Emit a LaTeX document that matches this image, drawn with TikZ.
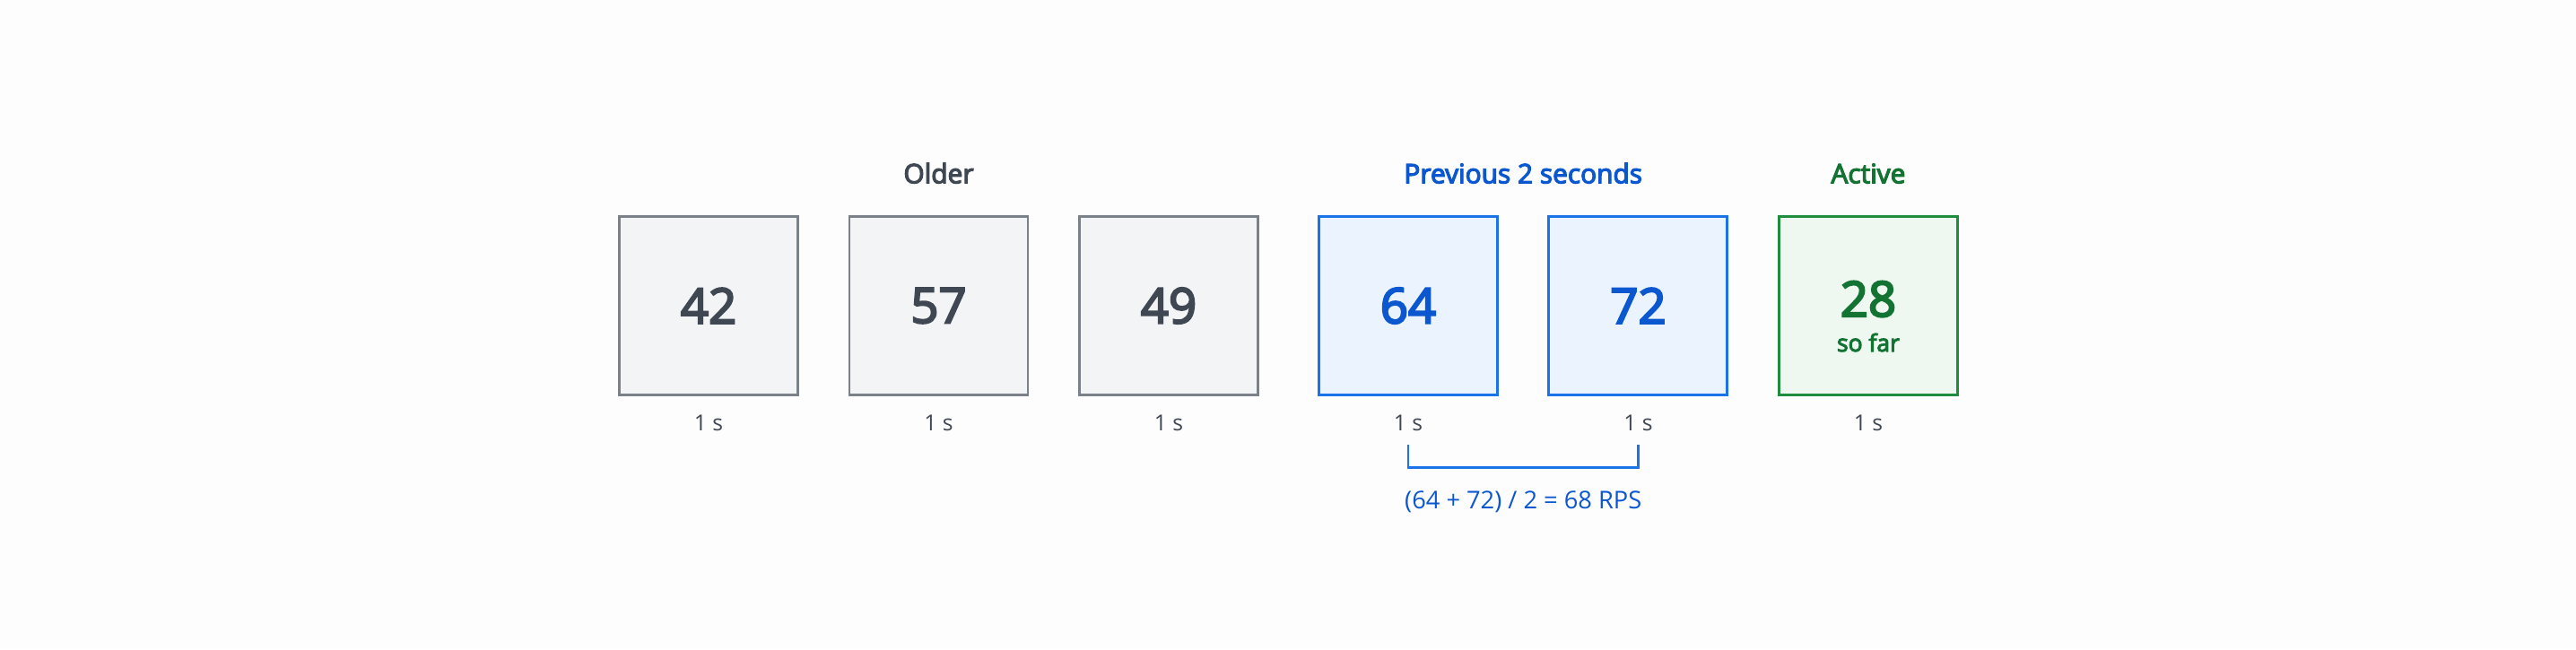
\documentclass[tikz,border=0pt]{standalone}
\usepackage{fontspec}
\setmainfont{Open Sans}
\newfontfamily\semifont[FakeBold=4]{Open Sans}
\usetikzlibrary{positioning, calc}
\definecolor{BGW}{HTML}{FDFDFD}
\definecolor{GRY1}{HTML}{F3F4F6}
\definecolor{GRY2}{HTML}{7B8189}
\definecolor{GRY3}{HTML}{3F4752}
\definecolor{BLU1}{HTML}{EBF3FE}
\definecolor{BLU2}{HTML}{1A73E8}
\definecolor{BLU3}{HTML}{0B57D0}
\definecolor{GRN1}{HTML}{EEF8F0}
\definecolor{GRN2}{HTML}{1E8E3E}
\definecolor{GRN3}{HTML}{137333}
\tikzstyle{older} = [rectangle, minimum size=3.98cm, line width=1.7pt, draw=GRY2, fill=GRY1, text=GRY3, font=\semifont\fontsize{31}{31}\selectfont]
\tikzstyle{recent} = [rectangle, minimum size=3.98cm, line width=1.7pt, draw=BLU2, fill=BLU1, text=BLU3, font=\semifont\fontsize{31}{31}\selectfont]
\tikzstyle{active} = [rectangle, minimum size=3.98cm, line width=1.7pt, draw=GRN2, fill=GRN1]
\tikzstyle{head} = [inner sep=0pt, font=\semifont\fontsize{17}{17}\selectfont]
\tikzstyle{secs} = [inner sep=0pt, text=GRY3, font=\fontsize{14}{14}\selectfont]
\tikzstyle{bracket} = [line width=1.5pt, draw=BLU2]

\begin{document}
\begin{tikzpicture}

\fill [BGW] (0,0) rectangle (57.44,14.48);

% boxes
\node (b1) [older] at (15.8,7.66) {42};
\node (b2) [older, right=1.09cm of b1] {57};
\node (b3) [older, right=1.09cm of b2] {49};
\node (b4) [recent, right=1.3cm of b3] {64};
\node (b5) [recent, right=1.09cm of b4] {72};
\node (b6) [active, right=1.09cm of b5] {};

\node (n28) [anchor=base, text=GRN3, font=\semifont\fontsize{31}{31}\selectfont] at ([yshift=-2.4mm]b6.center) {28};
\node (sofar) [anchor=base, text=GRN3, font=\semifont\fontsize{15}{15}\selectfont] at ([yshift=-7.8mm]n28.base) {so far};

% headings
\coordinate (p45) at ($(b4.north)!0.5!(b5.north)$);
\node (old) [head, text=GRY3, above=7mm of b2] {Older};
\node (prev) [head, text=BLU3, above=7mm of p45] {Previous 2 seconds};
\node (act) [head, text=GRN3, above=7mm of b6] {Active};

% durations
\node (t1) [secs, below=4.2mm of b1] {1 s};
\node (t2) [secs, below=4.2mm of b2] {1 s};
\node (t3) [secs, below=4.2mm of b3] {1 s};
\node (t4) [secs, below=4.2mm of b4] {1 s};
\node (t5) [secs, below=4.2mm of b5] {1 s};
\node (t6) [secs, below=4.2mm of b6] {1 s};

% average
\draw [bracket] ([yshift=-2.8mm]t4.south) -- ++(0,-5.2mm) -| ([yshift=-2.8mm]t5.south);
\coordinate (brk) at ($(t4.south)!0.5!(t5.south)+(0,-8mm)$);
\node (rps) [inner sep=0pt, text=BLU3, font=\fontsize{15.5}{15.5}\selectfont, below=5.2mm of brk] {(64 + 72) / 2 = 68 RPS};

\end{tikzpicture}
\end{document}
